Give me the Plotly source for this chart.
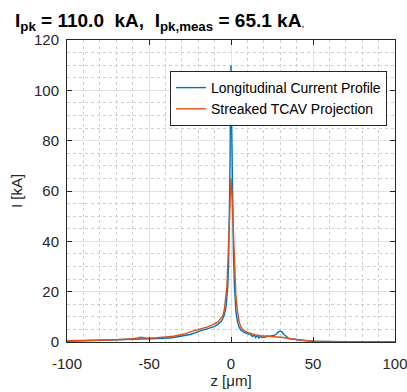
import plotly.graph_objects as go

# Longitudinal current profile (reconstructed)
z_profile = [-100, -95, -90, -85, -80, -75, -70, -65, -60, -55, -50, -45, -40, -35, -30, -27, -25, -22,
             -20, -17, -15, -12, -10, -8, -6, -5, -4, -3, -2.5, -2, -1.5, -1, -0.6, -0.3, 0, 0.3, 0.6,
             1, 1.5, 2, 2.5, 3, 4, 5, 6, 7, 8, 10, 12, 13, 14, 15, 16, 17, 18, 19, 20, 21, 22, 24, 26,
             27, 28, 29, 30, 31, 32, 33, 34, 35, 37, 40, 43, 46, 50, 55, 60, 70, 80, 90, 100]
I_profile = [0.3, 0.4, 0.5, 0.5, 0.6, 0.7, 0.8, 0.9, 1.1, 1.2, 1.1, 1.3, 1.5, 1.8, 2.3, 2.6, 3.0, 3.6,
             4.2, 4.8, 5.1, 5.7, 6.2, 7.0, 8.2, 9.3, 11.0, 14, 17, 22, 30, 45, 70, 95, 110.0, 92, 70,
             50, 35, 24, 17, 12, 8.0, 5.8, 4.8, 4.2, 3.8, 3.3, 2.9, 2.2, 2.8, 1.8, 2.6, 1.6, 2.3, 1.7,
             2.1, 1.9, 2.4, 2.3, 2.5, 2.8, 3.4, 4.1, 4.3, 4.0, 3.2, 2.6, 1.9, 1.5, 1.2, 0.9, 0.7, 0.5,
             0.3, 0.2, 0.15, 0.1, 0.1, 0.1, 0.1]

# Streaked TCAV projection (measured)
z_proj = [-100, -95, -90, -85, -80, -75, -70, -65, -60, -57, -55, -52, -50, -45, -40, -35, -30, -27,
          -25, -22, -20, -17, -15, -12, -10, -8, -6, -5, -4, -3, -2.5, -2, -1.5, -1, -0.5, 0, 0.5,
          1, 1.5, 2, 2.5, 3, 4, 5, 6, 7, 8, 10, 12, 15, 18, 20, 22, 25, 28, 30, 32, 35, 38, 40, 45,
          50, 55, 60, 70, 80, 90, 100]
I_proj = [0.5, 0.5, 0.6, 0.6, 0.7, 0.8, 0.9, 1.0, 1.3, 1.6, 1.9, 1.6, 1.5, 1.7, 2.0, 2.3, 3.0, 3.4,
          4.0, 4.6, 5.2, 5.5, 5.8, 6.5, 7.2, 8.0, 9.5, 10.5, 13, 18, 22, 30, 40, 52, 62, 65.1, 60,
          50, 40, 30, 23, 18, 12, 8, 6, 5, 4.5, 3.8, 3.3, 2.8, 2.5, 2.4, 2.4, 2.4, 2.2, 2.0, 1.8,
          1.4, 1.1, 0.9, 0.6, 0.35, 0.2, 0.15, 0.1, 0.1, 0.1, 0.1]

I_pk = max(I_profile)
I_pk_meas = max(I_proj)

x_ticks = [-100, -50, 0, 50, 100]
x_ticktext = ["-100", "-50", "0", "50", "100"]
y_ticks = [0, 20, 40, 60, 80, 100, 120]

FONT = "Liberation Sans, Arial, sans-serif"
TXT = "#262626"

fig = go.Figure()
fig.add_trace(go.Scatter(x=z_profile, y=I_profile, mode="lines",
                         name="Longitudinal Current Profile",
                         line=dict(color="#0072BD", width=1.4)))
fig.add_trace(go.Scatter(x=z_proj, y=I_proj, mode="lines",
                         name="Streaked TCAV Projection",
                         line=dict(color="#D95319", width=1.4)))

axis_common = dict(
    showline=True, linecolor="#262626", linewidth=1, mirror="ticks",
    ticks="inside", ticklen=5, tickcolor="#262626",
    showgrid=True, gridcolor="#e3e3e3", gridwidth=1,
    zeroline=False, automargin=False, ticklabeloverflow="allow",
    tickfont=dict(family=FONT, size=15, color=TXT),
)

fig.update_xaxes(range=[-100, 100], tickvals=x_ticks, ticktext=x_ticktext,
                 ticklabelstandoff=8,
                 title=dict(text="z [μm]", font=dict(family=FONT, size=15, color=TXT), standoff=4),
                 minor=dict(dtick=10, showgrid=True, griddash="dot", gridcolor="#cfcfcf", ticks=""),
                 **axis_common)
fig.update_yaxes(range=[0, 120], tickvals=y_ticks,
                 ticklabelstandoff=4,
                 title=dict(text="I [kA]", font=dict(family=FONT, size=15, color=TXT), standoff=7),
                 minor=dict(dtick=5, showgrid=True, griddash="dot", gridcolor="#cfcfcf", ticks=""),
                 **axis_common)

title_text = ("<b>I<sub>pk</sub> = %.1f  kA,  I<sub>pk,meas</sub> = %.1f kA</b>"
              "<span style='font-size:10px'>,</span>" % (I_pk, I_pk_meas))

fig.update_layout(
    width=407, height=392,
    margin=dict(l=67, r=12, t=40, b=50),
    paper_bgcolor="white", plot_bgcolor="white",
    title=dict(text=title_text, x=15 / 407, xanchor="left",
               y=1 - 20 / 392, yanchor="middle", yref="container",
               font=dict(family=FONT, size=19, color="black")),
    legend=dict(x=(387 - 67) / 328, xanchor="right", y=(342 - 71) / 302, yanchor="top",
                bgcolor="white", bordercolor="#262626", borderwidth=1,
                font=dict(family=FONT, size=14, color="black"),
                itemwidth=30, tracegroupgap=0),
    showlegend=True,
)

fig.write_html("out.html")
